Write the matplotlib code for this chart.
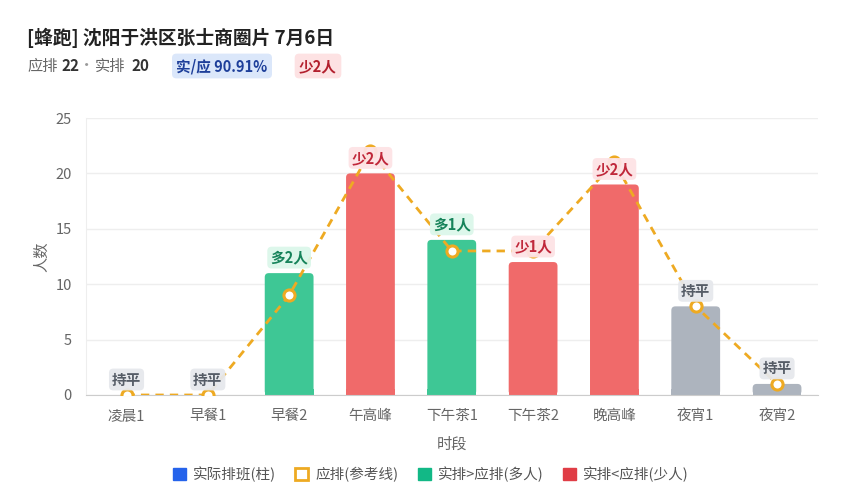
import numpy as np
import matplotlib
matplotlib.use('Agg')
import matplotlib.pyplot as plt
from matplotlib.patches import FancyBboxPatch, Patch

plt.rcParams['font.family'] = ['Noto Sans CJK SC', 'DejaVu Sans']

periods = ['凌晨1', '早餐1', '早餐2', '午高峰', '下午茶1', '下午茶2', '晚高峰', '夜宵1', '夜宵2']
actual = [0, 0, 11, 20, 14, 12, 19, 8, 1]
planned = [0, 0, 9, 22, 13, 13, 21, 8, 1]

GREEN = '#3ec795'
RED = '#f06a6a'
GRAY = '#adb4be'
ORANGE = '#eeaa22'

fig = plt.figure(figsize=(8.5, 5), dpi=100)
ax = fig.add_axes([0.101, 0.21, 0.861, 0.554])

x = np.arange(len(periods))
width = 0.6
# px per data unit: x ~81.3, y ~11.08
aspect = 81.3 / 11.08
for xi, a, p in zip(x, actual, planned):
    if a > p:
        c = GREEN
    elif a < p:
        c = RED
    else:
        c = GRAY
    if a > 0:
        bar = FancyBboxPatch((xi - width / 2, 0), width, a,
                             boxstyle='round,pad=0,rounding_size=0.05',
                             mutation_aspect=aspect, fc=c, ec='none', zorder=2)
        ax.add_patch(bar)
        # square off the bottom corners
        ax.bar(xi, min(a, 0.5), width=width, bottom=0, color=c, zorder=2)

ax.plot(x, planned, color=ORANGE, lw=2, ls=(0, (3, 2.2)), zorder=3)
ax.plot(x, planned, 'o', ms=8, mfc='white', mec=ORANGE, mew=2.2, ls='none', zorder=4)

for xi, a, p in zip(x, actual, planned):
    d = a - p
    if d > 0:
        txt, tc, bg = f'多{d}人', '#16835a', '#dcf7ea'
    elif d < 0:
        txt, tc, bg = f'少{-d}人', '#c0283a', '#fde3e5'
    else:
        txt, tc, bg = '持平', '#555c66', '#e6e8ec'
    ax.text(xi, a + 1.4, txt, ha='center', va='center', fontsize=10.5, fontweight='bold',
            color=tc, zorder=5,
            bbox=dict(boxstyle='round,pad=0.2,rounding_size=0.3', fc=bg, ec='none', alpha=0.95))

ax.set_xlim(-0.5, len(periods) - 0.5)
ax.set_ylim(0, 25)
ax.set_yticks([0, 5, 10, 15, 20, 25])
ax.set_xticks(x)
ax.set_xticklabels(periods)
ax.tick_params(axis='both', length=0, colors='#666666', labelsize=10.5)
ax.tick_params(axis='x', pad=10)
ax.tick_params(axis='y', pad=10)
ax.grid(axis='y', color='#eeeeee', lw=1, zorder=0)
ax.set_axisbelow(True)
for s in ['top', 'right']:
    ax.spines[s].set_visible(False)
ax.spines['left'].set_color('#eeeeee')
ax.spines['bottom'].set_color('#cccccc')
ax.set_xlabel('时段', color='#666666', fontsize=11, labelpad=9)
ax.set_ylabel('人数', color='#666666', fontsize=11, labelpad=4)

# header
fig.text(27 / 850, 1 - 38 / 500, '[蜂跑] 沈阳于洪区张士商圈片 7月6日', fontsize=13.5,
         fontweight='bold', color='#222222', va='center')
sub_y = 1 - 66 / 500
fig.text(27 / 850, sub_y, '应排', fontsize=11, color='#666666', va='center')
fig.text(61 / 850, sub_y, '22', fontsize=11, fontweight='bold', color='#333333', va='center')
fig.text(87 / 850, sub_y, '·', fontsize=11, color='#999999', va='center', ha='center')
fig.text(95 / 850, sub_y, '实排', fontsize=11, color='#666666', va='center')
fig.text(132 / 850, sub_y, '20', fontsize=11, fontweight='bold', color='#333333', va='center')
fig.text(222 / 850, sub_y, '实/应 90.91%', fontsize=10.5, fontweight='bold', color='#1e3f9a',
         va='center', ha='center',
         bbox=dict(boxstyle='round,pad=0.3,rounding_size=0.3', fc='#dbe7fa', ec='none'))
fig.text(318 / 850, sub_y, '少2人', fontsize=10.5, fontweight='bold', color='#b3202e',
         va='center', ha='center',
         bbox=dict(boxstyle='round,pad=0.3,rounding_size=0.3', fc='#fde2e3', ec='none'))

handles = [
    Patch(fc='#2563eb', ec='#2563eb', label='实际排班(柱)'),
    Patch(fc='white', ec=ORANGE, lw=2, label='应排(参考线)'),
    Patch(fc='#12b886', ec='#12b886', label='实排>应排(多人)'),
    Patch(fc='#e03d46', ec='#e03d46', label='实排<应排(少人)'),
]
fig.legend(handles=handles, loc='center', bbox_to_anchor=(431 / 850, 1 - 474 / 500), ncol=4,
           frameon=False, fontsize=10.5, handlelength=0.9, handleheight=0.9,
           columnspacing=1.3, handletextpad=0.5, labelcolor='#555555')

fig.savefig('out.png', dpi=100)
